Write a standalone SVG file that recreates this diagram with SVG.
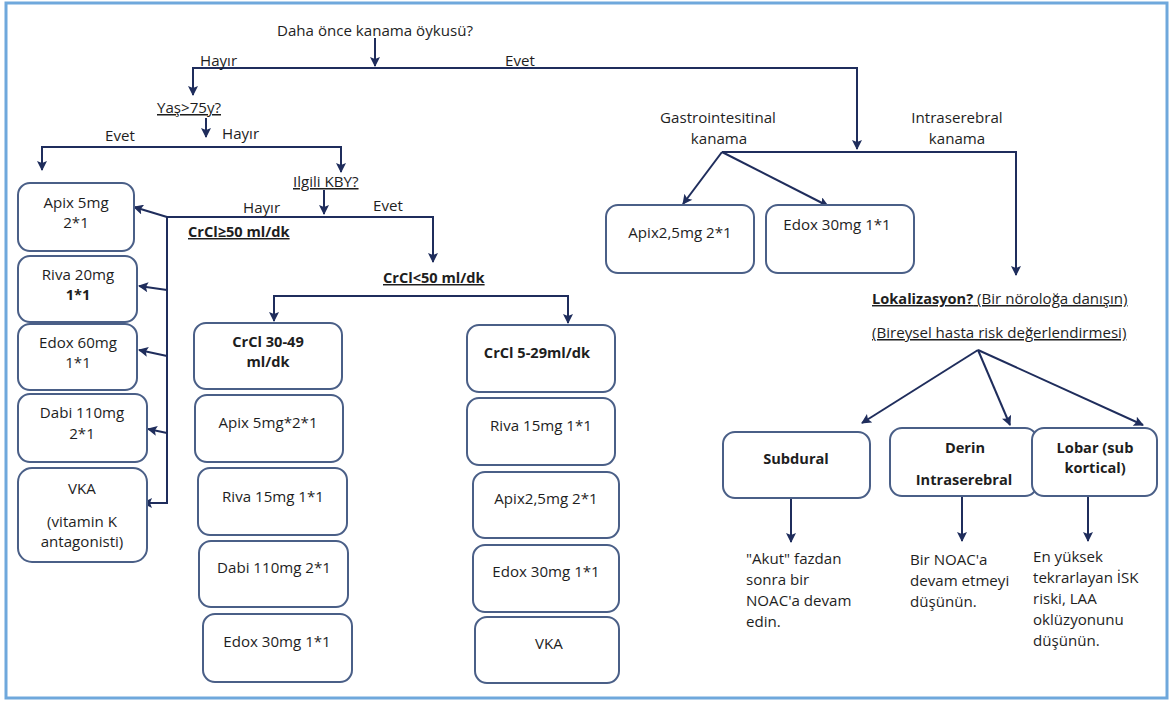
<svg xmlns="http://www.w3.org/2000/svg" width="1169" height="701" viewBox="0 0 1169 701">
<style>
text{font-family:"Open Sans",Lato,"Liberation Sans",sans-serif;font-size:15.1px;fill:#1e1e1e}
.c{text-anchor:middle}
.b{font-weight:bold;font-size:14.6px}
.u{text-decoration:underline}
.box{fill:#fff;stroke:#4a5f87;stroke-width:2}
.ar{fill:none;stroke:#1f2d5c;stroke-width:2;marker-end:url(#ah)}
</style>
<defs>
<marker id="ah" viewBox="0 0 10 10" refX="9" refY="5" markerWidth="11" markerHeight="10" markerUnits="userSpaceOnUse" orient="auto">
<path d="M0,0 L10,5 L0,10 L2,5 z" fill="#1f2d5c"/>
</marker>
</defs>
<rect x="6" y="3" width="1161" height="695" fill="#fff" stroke="#6fa8dc" stroke-width="3"/>

<g id="connectors">
<path class="ar" d="M375,38 L375,66"/>
<path class="ar" d="M375,68 L193,68 L193,95"/>
<path class="ar" d="M375,68 L857,68 L857,149"/>
<path class="ar" d="M206,118 L206,137"/>
<path class="ar" d="M206,147 L42,147 L42,170"/>
<path class="ar" d="M206,147 L341,147 L341,172"/>
<path class="ar" d="M324,190 L324,214"/>
<path class="ar" d="M324,217 L167,217 L167,503 L143,503"/>
<path class="ar" d="M324,217 L433,217 L433,262"/>
<path class="ar" d="M167,217 L134,207"/>
<path class="ar" d="M167,290 L139,286"/>
<path class="ar" d="M167,356 L139,350"/>
<path class="ar" d="M167,433 L148,429"/>
<path class="ar" d="M421,296 L274,296 L274,321"/>
<path class="ar" d="M421,296 L568,296 L568,323"/>
<path class="ar" d="M722,152 L1016,152 L1016,275"/>
<path class="ar" d="M722,152 L683,204"/>
<path class="ar" d="M722,152 L828,206"/>
<path class="ar" d="M978,350 L862,423"/>
<path class="ar" d="M978,350 L1010,425"/>
<path class="ar" d="M978,350 L1143,425"/>
<path class="ar" d="M791,498 L791,542"/>
<path class="ar" d="M962,496 L962,541"/>
<path class="ar" d="M1088,496 L1088,541"/>
</g>

<g id="labels">
<text x="277" y="36">Daha önce kanama öykusü?</text>
<text x="200" y="66">Hayır</text>
<text x="505" y="66">Evet</text>
<text x="157" y="113" class="u">Yaş&gt;75y?</text>
<text x="222" y="139">Hayır</text>
<text x="105" y="141">Evet</text>
<text x="293" y="187" class="u">Ilgili KBY?</text>
<text x="243" y="213">Hayır</text>
<text x="373" y="211">Evet</text>
<text x="188" y="237" class="b u">CrCl≥50 ml/dk</text>
<text x="383" y="283" class="b u">CrCl&lt;50 ml/dk</text>
<text x="718" y="123" class="c">Gastrointesitinal</text>
<text x="719" y="144" class="c">kanama</text>
<text x="957" y="123" class="c">Intraserebral</text>
<text x="957" y="144" class="c">kanama</text>
<text x="872" y="304" class="u"><tspan class="b">Lokalizasyon?</tspan> (Bir nöroloğa danışın)</text>
<text x="872" y="338" class="u">(Bireysel hasta risk değerlendirmesi)</text>
</g>

<g id="n-apix5">
<rect class="box" x="18" y="183" width="116" height="68" rx="12"/>
<text x="76" y="208" class="c">Apix 5mg</text>
<text x="76" y="228" class="c">2*1</text>
</g>
<g id="n-riva20">
<rect class="box" x="18" y="256" width="119" height="66" rx="12"/>
<text x="78" y="280" class="c">Riva 20mg</text>
<text x="78" y="300" class="c b">1*1</text>
</g>
<g id="n-edox60">
<rect class="box" x="18" y="324" width="119" height="66" rx="12"/>
<text x="78" y="348" class="c">Edox 60mg</text>
<text x="78" y="368" class="c">1*1</text>
</g>
<g id="n-dabi110">
<rect class="box" x="18" y="394" width="129" height="68" rx="12"/>
<text x="82" y="418" class="c">Dabi 110mg</text>
<text x="82" y="439" class="c">2*1</text>
</g>
<g id="n-vka1">
<rect class="box" x="18" y="468" width="129" height="94" rx="14"/>
<text x="82" y="494" class="c">VKA</text>
<text x="82" y="527" class="c">(vitamin K</text>
<text x="82" y="547" class="c">antagonisti)</text>
</g>

<g id="n-crcl3049">
<rect class="box" x="194" y="323" width="148" height="66" rx="12"/>
<text x="268" y="347" class="c b">CrCl 30-49</text>
<text x="268" y="367" class="c b">ml/dk</text>
</g>
<g id="n-apix5b">
<rect class="box" x="195" y="395" width="148" height="67" rx="12"/>
<text x="268" y="428" class="c">Apix 5mg*2*1</text>
</g>
<g id="n-riva15a">
<rect class="box" x="198" y="468" width="149" height="67" rx="12"/>
<text x="273" y="502" class="c">Riva 15mg 1*1</text>
</g>
<g id="n-dabi110b">
<rect class="box" x="199" y="541" width="149" height="66" rx="12"/>
<text x="274" y="573" class="c">Dabi 110mg 2*1</text>
</g>
<g id="n-edox30a">
<rect class="box" x="203" y="614" width="149" height="68" rx="12"/>
<text x="277" y="647" class="c">Edox 30mg 1*1</text>
</g>

<g id="n-crcl529">
<rect class="box" x="467" y="325" width="148" height="67" rx="12"/>
<text x="537" y="358" class="c b">CrCl 5-29ml/dk</text>
</g>
<g id="n-riva15b">
<rect class="box" x="467" y="398" width="148" height="67" rx="12"/>
<text x="541" y="431" class="c">Riva 15mg 1*1</text>
</g>
<g id="n-apix25a">
<rect class="box" x="473" y="472" width="146" height="66" rx="12"/>
<text x="546" y="504" class="c">Apix2,5mg 2*1</text>
</g>
<g id="n-edox30b">
<rect class="box" x="473" y="545" width="146" height="67" rx="12"/>
<text x="546" y="577" class="c">Edox 30mg 1*1</text>
</g>
<g id="n-vka2">
<rect class="box" x="475" y="617" width="144" height="66" rx="12"/>
<text x="549" y="649" class="c">VKA</text>
</g>

<g id="n-apix25b">
<rect class="box" x="606" y="205" width="148" height="68" rx="12"/>
<text x="680" y="238" class="c">Apix2,5mg 2*1</text>
</g>
<g id="n-edox30c">
<rect class="box" x="766" y="205" width="148" height="68" rx="12"/>
<text x="837" y="230" class="c">Edox 30mg 1*1</text>
</g>

<g id="n-subdural">
<rect class="box" x="723" y="432" width="147" height="66" rx="12"/>
<text x="796" y="464" class="c b">Subdural</text>
</g>
<g id="n-derin">
<rect class="box" x="890" y="428" width="147" height="68" rx="12"/>
<text x="965" y="453" class="c b">Derin</text>
<text x="964" y="485" class="c b">Intraserebral</text>
</g>
<g id="n-lobar">
<rect class="box" x="1032" y="428" width="125" height="68" rx="12"/>
<text x="1095" y="453" class="c b">Lobar (sub</text>
<text x="1095" y="473" class="c b">kortical)</text>
</g>

<g id="t-subdural">
<text x="746" y="564">"Akut" fazdan</text>
<text x="746" y="585">sonra bir</text>
<text x="746" y="606">NOAC'a devam</text>
<text x="746" y="627">edin.</text>
</g>
<g id="t-derin">
<text x="910" y="565">Bir NOAC'a</text>
<text x="910" y="586">devam etmeyi</text>
<text x="910" y="607">düşünün.</text>
</g>
<g id="t-lobar">
<text x="1033" y="562">En yüksek</text>
<text x="1033" y="583">tekrarlayan İSK</text>
<text x="1033" y="604">riski, LAA</text>
<text x="1033" y="625">oklüzyonunu</text>
<text x="1033" y="646">düşünün.</text>
</g>
</svg>
